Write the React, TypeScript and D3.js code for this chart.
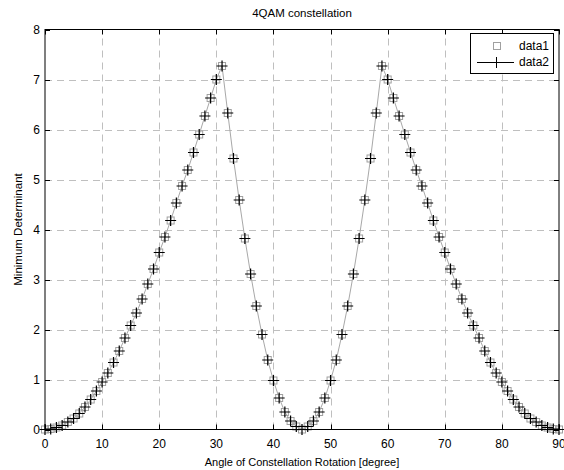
import React, { useEffect, useRef } from "react";
import * as d3 from "d3";

// rotation angle in degrees
const angles = [
  0, 1, 2, 3, 4, 5, 6, 7, 8, 9, 10, 11, 12, 13, 14, 15, 16, 17, 18, 19, 20,
  21, 22, 23, 24, 25, 26, 27, 28, 29, 30, 31, 32, 33, 34, 35, 36, 37, 38, 39,
  40, 41, 42, 43, 44, 45, 46, 47, 48, 49, 50, 51, 52, 53, 54, 55, 56, 57, 58,
  59, 60, 61, 62, 63, 64, 65, 66, 67, 68, 69, 70, 71, 72, 73, 74, 75, 76, 77,
  78, 79, 80, 81, 82, 83, 84, 85, 86, 87, 88, 89, 90,
];

// minimum determinant (same values for both series)
const minDet = [
  0, 0.01, 0.04, 0.08, 0.15, 0.22, 0.32, 0.45, 0.6, 0.77, 0.95, 1.13, 1.34,
  1.57, 1.83, 2.08, 2.33, 2.61, 2.91, 3.21, 3.54, 3.85, 4.18, 4.53, 4.87, 5.19,
  5.54, 5.9, 6.27, 6.63, 7.0, 7.27, 6.33, 5.42, 4.59, 3.82, 3.11, 2.47, 1.9,
  1.39, 0.98, 0.63, 0.35, 0.17, 0.06, 0.0, 0.06, 0.17, 0.35, 0.63, 0.98, 1.39,
  1.9, 2.47, 3.11, 3.82, 4.59, 5.42, 6.33, 7.27, 7.0, 6.63, 6.27, 5.9, 5.54,
  5.19, 4.87, 4.53, 4.18, 3.85, 3.54, 3.21, 2.91, 2.61, 2.33, 2.08, 1.83, 1.57,
  1.34, 1.13, 0.95, 0.77, 0.6, 0.45, 0.32, 0.22, 0.15, 0.08, 0.04, 0.01, 0,
];

const xTicks = [0, 10, 20, 30, 40, 50, 60, 70, 80, 90];
const yTicks = [0, 1, 2, 3, 4, 5, 6, 7, 8];
const seriesNames = ["data1", "data2"];

const App = () => {
  const ref = useRef<HTMLDivElement>(null);

  useEffect(() => {
    drawChart();
  }, []);

  const drawChart = () => {
    const width = 564,
      height = 470;
    const left = 45,
      right = 559,
      top = 29.5,
      bottom = 429.5;
    const font = "'Liberation Sans', Arial, sans-serif";

    const svg = d3
      .select(ref.current)
      .html("")
      .append("svg")
      .attr("width", width)
      .attr("height", height)
      .style("position", "absolute")
      .style("left", 0)
      .style("top", 0)
      .style("background", "#fff");

    const x = d3.scaleLinear().domain([0, 90]).range([left, right]);
    const y = d3.scaleLinear().domain([0, 8]).range([bottom, top]);

    // grid
    const grid = svg.append("g");
    grid
      .selectAll("vgrid")
      .data(xTicks.slice(1, -1))
      .join("line")
      .attr("x1", (d) => Math.round(x(d)) + 0.5)
      .attr("x2", (d) => Math.round(x(d)) + 0.5)
      .attr("y1", bottom)
      .attr("y2", top)
      .attr("stroke", "#bfbfbf")
      .attr("stroke-dasharray", "7,5");
    grid
      .selectAll("hgrid")
      .data(yTicks.slice(1, -1))
      .join("line")
      .attr("y1", (d) => Math.round(y(d)) + 0.5)
      .attr("y2", (d) => Math.round(y(d)) + 0.5)
      .attr("x1", left)
      .attr("x2", right)
      .attr("stroke", "#bfbfbf")
      .attr("stroke-dasharray", "7,5");

    // line for data2
    const line = d3
      .line<number>()
      .x((d, i) => x(angles[i]))
      .y((d) => y(d));
    svg
      .append("path")
      .datum(minDet)
      .attr("d", line)
      .attr("fill", "none")
      .attr("stroke", "#a8a8a8")
      .attr("stroke-width", 1);

    // data1 squares
    svg
      .selectAll("squares")
      .data(minDet)
      .join("rect")
      .attr("x", (d, i) => x(angles[i]) - 3.5)
      .attr("y", (d) => y(d) - 3.5)
      .attr("width", 7)
      .attr("height", 7)
      .attr("fill", "none")
      .attr("stroke", "#a0a0a0")
      .attr("stroke-width", 1);

    // data2 plus markers
    const plus = d3.path();
    minDet.forEach((d, i) => {
      const cx = x(angles[i]),
        cy = y(d);
      plus.moveTo(cx - 5.5, cy);
      plus.lineTo(cx + 5.5, cy);
      plus.moveTo(cx, cy - 5.5);
      plus.lineTo(cx, cy + 5.5);
    });
    svg
      .append("path")
      .attr("d", plus.toString())
      .attr("stroke", "#000")
      .attr("stroke-width", 1.2)
      .attr("fill", "none");

    // axes box
    svg
      .append("rect")
      .attr("x", left)
      .attr("y", top)
      .attr("width", right - left)
      .attr("height", bottom - top)
      .attr("fill", "none")
      .attr("stroke", "#000")
      .attr("stroke-width", 1);

    const tickLen = 5;
    const ticks = svg.append("g").attr("stroke", "#000");
    xTicks.forEach((t) => {
      const px = Math.round(x(t)) + 0.5;
      ticks.append("line").attr("x1", px).attr("x2", px).attr("y1", bottom).attr("y2", bottom - tickLen);
      ticks.append("line").attr("x1", px).attr("x2", px).attr("y1", top).attr("y2", top + tickLen);
    });
    yTicks.forEach((t) => {
      const py = Math.round(y(t)) + 0.5;
      ticks.append("line").attr("x1", left).attr("x2", left + tickLen).attr("y1", py).attr("y2", py);
      ticks.append("line").attr("x1", right).attr("x2", right - tickLen).attr("y1", py).attr("y2", py);
    });

    // tick labels (the last one runs off the right edge, as in the original)
    svg
      .selectAll("xlab")
      .data(xTicks)
      .join("text")
      .attr("x", (d) => x(d))
      .attr("y", bottom + 18)
      .attr("text-anchor", "middle")
      .style("font-family", font)
      .style("font-size", "12px")
      .text((d) => d);
    svg
      .selectAll("ylab")
      .data(yTicks)
      .join("text")
      .attr("x", left - 5)
      .attr("y", (d) => y(d) + 4)
      .attr("text-anchor", "end")
      .style("font-family", font)
      .style("font-size", "12px")
      .text((d) => d);

    // title and axis labels
    svg
      .append("text")
      .attr("x", (left + right) / 2)
      .attr("y", 17)
      .attr("text-anchor", "middle")
      .style("font-family", font)
      .style("font-size", "11.5px")
      .text("4QAM constellation");
    svg
      .append("text")
      .attr("x", (left + right) / 2)
      .attr("y", 466)
      .attr("text-anchor", "middle")
      .style("font-family", font)
      .style("font-size", "11px")
      .text("Angle of Constellation Rotation [degree]");
    svg
      .append("text")
      .attr("transform", `translate(22, ${(top + bottom) / 2}) rotate(-90)`)
      .attr("text-anchor", "middle")
      .style("font-family", font)
      .style("font-size", "11.5px")
      .text("Minimum Determinant");

    // legend
    const lg = svg.append("g");
    lg.append("rect")
      .attr("x", 470.5)
      .attr("y", 33.5)
      .attr("width", 83)
      .attr("height", 40)
      .attr("fill", "#fff")
      .attr("stroke", "#000");
    lg.append("rect")
      .attr("x", 493.5)
      .attr("y", 42.5)
      .attr("width", 7)
      .attr("height", 7)
      .attr("fill", "none")
      .attr("stroke", "#a0a0a0");
    lg.append("line")
      .attr("x1", 477)
      .attr("x2", 514)
      .attr("y1", 62.5)
      .attr("y2", 62.5)
      .attr("stroke", "#000");
    lg.append("line")
      .attr("x1", 496.5)
      .attr("x2", 496.5)
      .attr("y1", 57)
      .attr("y2", 68)
      .attr("stroke", "#000");
    lg.selectAll("lgtext")
      .data(seriesNames)
      .join("text")
      .attr("x", 519)
      .attr("y", (d, i) => 50 + i * 16)
      .style("font-family", font)
      .style("font-size", "12px")
      .text((d) => d);
  };

  return <div ref={ref}></div>;
};

export default App;
